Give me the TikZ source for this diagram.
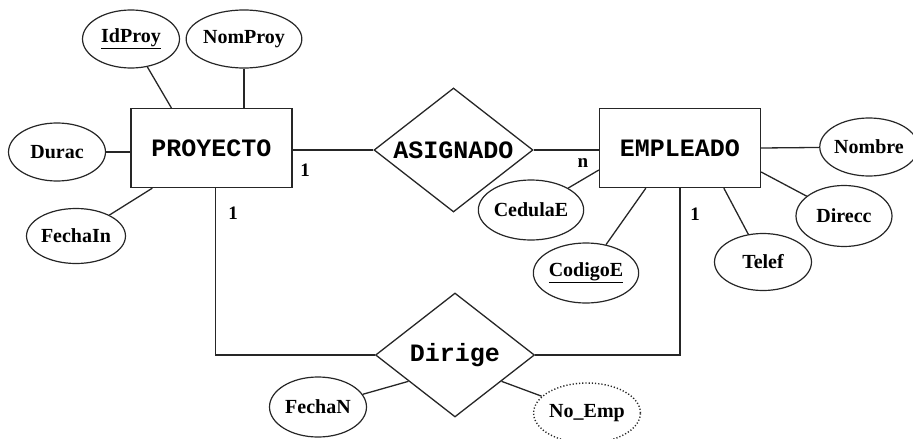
\documentclass[tikz,border=0pt]{standalone}
\usepackage{fontspec}
\setmainfont{Liberation Serif}
\newfontfamily\erfont{Liberation Mono}
\usetikzlibrary{shapes.geometric,calc}

\tikzset{
  conn/.style={draw=black!85, line width=1.3pt},
  attr/.style={ellipse, draw=black!85, line width=1.2pt, inner sep=0pt,
               minimum width=97pt, minimum height=58pt,
               font=\fontsize{20}{20}\selectfont\bfseries},
  keyattr/.style={attr},
  weakattr/.style={attr, dotted, line width=1.4pt},
  entity/.style={rectangle, draw=black!85, line width=1.3pt, inner sep=0pt,
                 minimum width=161pt, minimum height=79pt,
                 font=\erfont\fontsize{25}{25}\selectfont\bfseries},
  relation/.style={diamond, draw=black!85, line width=1.3pt, inner sep=0pt,
                   aspect=1.28, minimum width=159pt, minimum height=124pt,
                   font=\erfont\fontsize{25}{25}\selectfont\bfseries},
  card/.style={inner sep=0pt, font=\fontsize{19}{19}\selectfont\bfseries}
}

\begin{document}
\begin{tikzpicture}[x=1pt, y=-1pt]
  \useasboundingbox (0,0) rectangle (913,439);

  % entities and relationships
  \node[entity] (PROYECTO) at (211.5,148) {PROYECTO};
  \node[entity] (EMPLEADO) at (680,148) {EMPLEADO};
  \node[relation] (ASIGNADO) at (453.5,150) {ASIGNADO};
  \node[relation] (Dirige) at (455,355) {Dirige};

  % attributes of PROYECTO
  \node[keyattr] (IdProy) at (131,39) {\underline{IdProy}};
  \node[attr] (NomProy) at (244,39) {NomProy};
  \node[attr] (Durac) at (57,152) {Durac};
  \node[attr, minimum height=55pt] (FechaIn) at (76,236) {FechaIn};

  % attributes of EMPLEADO
  \node[attr, minimum height=60pt] (CedulaE) at (531,210) {CedulaE};
  \node[keyattr, minimum height=60pt] (CodigoE) at (586,273) {\underline{CodigoE}};
  \node[attr, minimum height=57pt] (Telef) at (763,262) {Telef};
  \node[attr, minimum height=61pt, minimum width=96pt] (Direcc) at (844,216) {Direcc};
  \node[attr, minimum width=92pt] (Nombre) at (869,147) {Nombre};

  % attributes of Dirige
  \node[attr, minimum height=60pt] (FechaN) at (318,407) {FechaN};
  \node[weakattr, minimum height=60pt] (NoEmp) at (587,413) {No\_Emp};

  % attachment points on the boxes and diamonds
  \coordinate (pIdProy) at ([xshift=41pt]PROYECTO.north west);
  \coordinate (pFechaIn) at ([xshift=22pt]PROYECTO.south west);
  \coordinate (pDirige) at ([xshift=85pt]PROYECTO.south west);
  \coordinate (eCedula) at ([yshift=-22pt]EMPLEADO.west);
  \coordinate (eCodigo) at ([xshift=47pt]EMPLEADO.south west);
  \coordinate (eTelef) at ([xshift=125pt]EMPLEADO.south west);
  \coordinate (eDirecc) at ([yshift=-24pt]EMPLEADO.east);
  \coordinate (dFechaN) at ($(Dirige.west)!0.42!(Dirige.south)$);
  \coordinate (dNoEmp) at ($(Dirige.east)!0.42!(Dirige.south)$);

  % connectors
  \draw[conn] (ASIGNADO.west) -- (ASIGNADO.west -| PROYECTO.east);
  \draw[conn] (ASIGNADO.east) -- (ASIGNADO.east -| EMPLEADO.west);
  \draw[conn] (pDirige) |- (Dirige.west);
  \draw[conn] (Dirige.east) -| (EMPLEADO.south);

  \draw[conn] (IdProy) -- (pIdProy);
  \draw[conn] (NomProy.south) -- (NomProy.south |- PROYECTO.north);
  \draw[conn] (Durac.east) -- (Durac.east -| PROYECTO.west);
  \draw[conn] (FechaIn) -- (pFechaIn);

  \draw[conn] (CedulaE) -- (eCedula);
  \draw[conn] (CodigoE) -- (eCodigo);
  \draw[conn] (Telef) -- (eTelef);
  \draw[conn] (Direcc) -- (eDirecc);
  \draw[conn] (EMPLEADO.east) -- (Nombre);

  \draw[conn] (FechaN) -- (dFechaN);
  \draw[conn] (dNoEmp) -- (NoEmp);

  % cardinalities
  \node[card] (c1) at (305,170) {1};
  \node[card] (c2) at (233,213) {1};
  \node[card] (c3) at (583,163) {n};
  \node[card] (c4) at (695,214) {1};
\end{tikzpicture}
\end{document}
